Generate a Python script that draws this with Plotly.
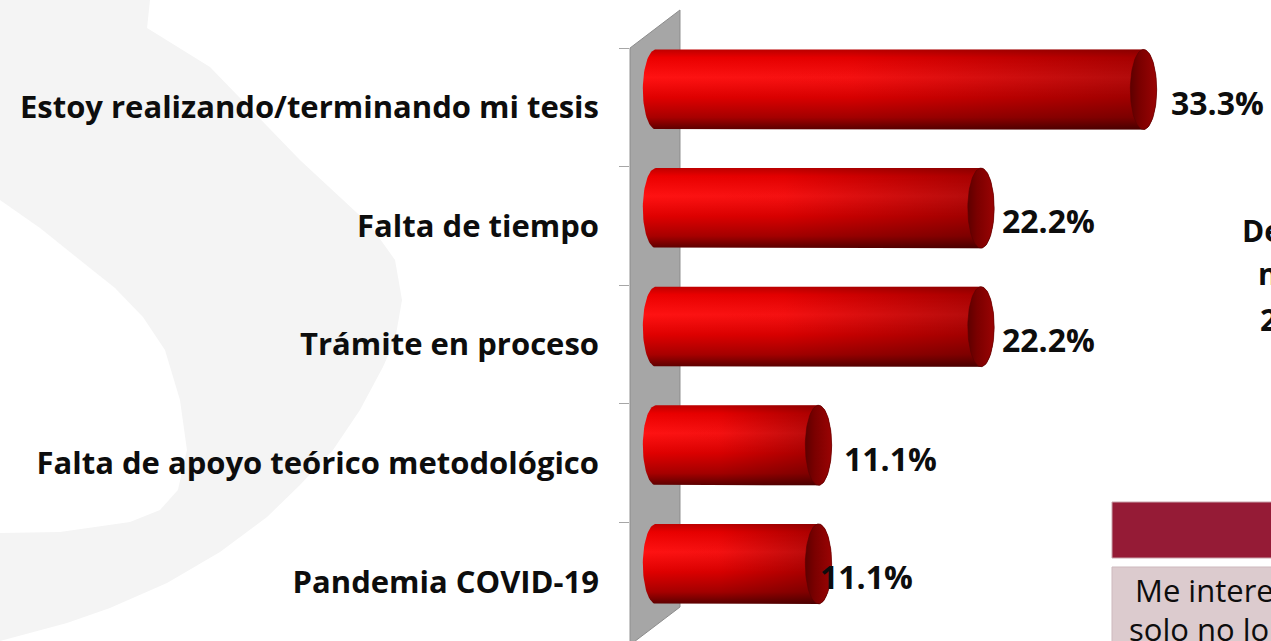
import numpy as np
import plotly.graph_objects as go

# Data
categories = [
    "Estoy realizando/terminando mi tesis",
    "Falta de tiempo",
    "Trámite en proceso",
    "Falta de apoyo teórico metodológico",
    "Pandemia COVID-19",
]
values = [33.3, 22.2, 22.2, 11.1, 11.1]
value_labels = ["33.3%", "22.2%", "22.2%", "11.1%", "11.1%"]

side_lines = ["De", "n", "2"]
box_lines = ["Me intere", "solo no lo"]

# Page geometry (pixels)
W, H = 1271, 641
X0_PX = 656          # where 0 % sits
PX_PER_UNIT = 14.64
AX_LEFT = 630
PLOT_TOP = 48

RX = 0.9      # half width of the cylinder end (x units)
RY = 0.3375   # half height of the cylinder (category units)
SHIFT = -0.15  # 3d depth shift of the bars
LABEL_XSHIFT = [12, 6, 6, 10, -14]

FONT = "Open Sans"


def px(x):
    return x / W


def py(y):
    return 1 - y / H


def path(points):
    return "M " + " L ".join(f"{px(a):.4f},{py(b):.4f}" for a, b in points) + " Z"


fig = go.Figure()

body_scale = [
    [0.0, "#c00000"], [0.1, "#ec0000"], [0.35, "#ff1212"],
    [0.6, "#e00000"], [0.85, "#a80000"], [1.0, "#5c0000"],
]
cap_scale = [[0.0, "#5e0000"], [0.35, "#7a0000"], [1.0, "#9a0404"]]

t = np.linspace(-np.pi / 2, np.pi / 2, 40)
tt = np.linspace(0, 2 * np.pi, 80)

for i, v in enumerate(values):
    yc = i + SHIFT
    xs = np.concatenate([v + RX * np.cos(t), -RX * np.cos(t)])
    ys = np.concatenate([yc + RY * np.sin(t), yc - RY * np.sin(t)])
    # cylinder body
    fig.add_trace(go.Scatter(
        x=xs, y=ys, mode="lines", fill="toself", line=dict(width=0),
        fillgradient=dict(type="vertical", colorscale=body_scale,
                          start=yc - RY, stop=yc + RY),
        hoverinfo="skip", showlegend=False,
    ))
    # darken towards the end
    fig.add_trace(go.Scatter(
        x=xs, y=ys, mode="lines", fill="toself", line=dict(width=0),
        fillgradient=dict(type="horizontal",
                          colorscale=[[0, "rgba(40,0,0,0)"], [0.4, "rgba(40,0,0,0.05)"],
                                      [1, "rgba(40,0,0,0.38)"]],
                          start=-RX, stop=v + RX),
        hoverinfo="skip", showlegend=False,
    ))
    # end face
    fig.add_trace(go.Scatter(
        x=v + RX * np.cos(tt), y=yc + RY * np.sin(tt), mode="lines", fill="toself",
        line=dict(width=0.6, color="#5a0000"),
        fillgradient=dict(type="horizontal", colorscale=cap_scale,
                          start=v - RX, stop=v + RX),
        hoverinfo="skip", showlegend=False,
    ))
    fig.add_annotation(
        x=v + RX, y=i, text=value_labels[i], showarrow=False,
        xanchor="left", yanchor="middle", xshift=LABEL_XSHIFT[i], yshift=5,
        font=dict(family=FONT, size=32, color="#0d0d0d", weight="bold"),
    )

# faint background S
shape_a = [(0, 0), (150, 0), (147, 28), (210, 67), (300, 160), (370, 225), (395, 260),
           (402, 300), (395, 340), (383, 367), (360, 410), (333, 450), (300, 485),
           (267, 517), (220, 552), (167, 583), (110, 608), (67, 623), (0, 641)]
shape_b = [(0, 200), (40, 228), (80, 260), (115, 288), (143, 317), (165, 350),
           (180, 400), (187, 450), (178, 490), (160, 510), (130, 522), (60, 532), (0, 533)]
shapes = [
    dict(type="path", xref="paper", yref="paper", path=path(shape_a),
         fillcolor="#f4f4f4", line=dict(width=0), layer="below"),
    dict(type="path", xref="paper", yref="paper", path=path(shape_b),
         fillcolor="#ffffff", line=dict(width=0), layer="below"),
    # grey side wall
    dict(type="path", xref="paper", yref="paper",
         path=path([(630, 48), (680, 10), (680, 607), (630, 645)]),
         fillcolor="#a6a6a6", line=dict(width=1, color="#8c8c8c"), layer="below"),
    # right side boxes
    dict(type="rect", xref="paper", yref="paper", x0=px(1112), x1=px(1275),
         y0=py(558), y1=py(502), fillcolor="#951b36",
         line=dict(width=1, color="#c9a3ab")),
    dict(type="rect", xref="paper", yref="paper", x0=px(1112), x1=px(1275),
         y0=py(650), y1=py(567), fillcolor="#dccbce",
         line=dict(width=1, color="#cdb9bd")),
]

side_pos = [(1240, 230), (1256, 273), (1258, 319)]
for txt, (x, y) in zip(side_lines, side_pos):
    fig.add_annotation(
        x=px(x), y=py(y), xref="paper", yref="paper", text=txt, showarrow=False,
        xanchor="left", yanchor="middle",
        font=dict(family=FONT, size=30, color="#0d0d0d", weight="bold"),
    )

box_pos = [(1133, 590), (1127, 629)]
for txt, (x, y) in zip(box_lines, box_pos):
    fig.add_annotation(
        x=px(x), y=py(y), xref="paper", yref="paper", text=txt, showarrow=False,
        xanchor="left", yanchor="middle",
        font=dict(family=FONT, size=31, color="#0d0d0d"),
    )

fig.update_layout(
    width=W, height=H,
    margin=dict(l=0, r=0, t=0, b=0),
    paper_bgcolor="white", plot_bgcolor="rgba(0,0,0,0)",
    showlegend=False,
    shapes=shapes,
    xaxis=dict(
        domain=[px(AX_LEFT), 1],
        range=[(AX_LEFT - X0_PX) / PX_PER_UNIT, (W - X0_PX) / PX_PER_UNIT],
        visible=False,
    ),
    yaxis=dict(
        domain=[0, py(PLOT_TOP)],
        range=[4.5, -0.5],
        tickvals=list(range(len(categories))),
        ticktext=categories,
        ticks="", showgrid=False, zeroline=False, showline=False,
        ticklabelstandoff=30,
        tickfont=dict(family=FONT, size=31, color="#0d0d0d", weight="bold"),
        minor=dict(tickvals=[-0.5, 0.5, 1.5, 2.5, 3.5], ticks="outside",
                   ticklen=10, tickcolor="#a6a6a6", tickwidth=1, showgrid=False),
        automargin=False,
    ),
)

# the page body would otherwise add an 8px margin around the figure
fig.write_html("out.html", config={"displayModeBar": False},
               post_script="document.body.style.margin = '0';")
